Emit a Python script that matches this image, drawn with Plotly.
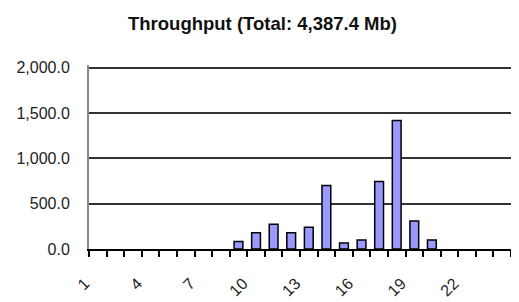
import plotly.graph_objects as go

categories = list(range(1, 25))
throughput = [0, 0, 0, 0, 0, 0, 0, 0, 84, 178, 274, 178, 241, 700, 65, 99, 744, 1418, 309, 99, 0, 0, 0, 0]
tick_positions = [1, 4, 7, 10, 13, 16, 19, 22]
tick_labels = [str(v) for v in tick_positions]
y_ticks = [0, 500, 1000, 1500, 2000]
title_text = "Throughput (Total: 4,387.4 Mb)"

font_family = "Liberation Sans, Arial, sans-serif"
outline_widths = [1.5 if v > 0 else 0 for v in throughput]

# the page body adds an 8px offset; the figure is sized to fit the 519x302 window
W, H = 511, 294

fig = go.Figure(
    go.Bar(
        x=categories,
        y=throughput,
        width=0.5,
        marker=dict(color="#9999FF", line=dict(color="#000000", width=outline_widths)),
    )
)

fig.update_layout(
    width=W,
    height=H,
    margin=dict(l=81, r=8, t=57, b=53),
    paper_bgcolor="white",
    plot_bgcolor="white",
    showlegend=False,
    title=dict(
        text="<b>" + title_text + "</b>",
        x=0.498,
        xref="container",
        xanchor="center",
        y=1 - 16 / H,
        yref="container",
        yanchor="middle",
        font=dict(family=font_family, size=18.5, color="#111111"),
    ),
    xaxis=dict(
        range=[0.5, 24.5],
        tickvals=[c + 0.5 for c in [0] + categories],
        ticktext=["" for _ in range(25)],
        ticks="outside",
        ticklen=6,
        tickwidth=1.5,
        tickcolor="#000000",
        showgrid=False,
        zeroline=False,
        showline=True,
        linecolor="#000000",
        linewidth=1.5,
        automargin=False,
    ),
    xaxis2=dict(
        overlaying="x",
        side="bottom",
        anchor="y",
        range=[0.5, 24.5],
        tickvals=tick_positions,
        ticktext=tick_labels,
        tickangle=-45,
        ticks="",
        ticklabelshift=-13,
        ticklabelstandoff=21,
        showgrid=False,
        zeroline=False,
        showline=False,
        automargin=False,
        tickfont=dict(family=font_family, size=16, color="#222222"),
    ),
    yaxis=dict(
        range=[0, 2030],
        tickvals=y_ticks,
        tickformat=",.1f",
        ticks="",
        ticklabelstandoff=14,
        showgrid=True,
        gridcolor="#333333",
        gridwidth=1.5,
        zeroline=False,
        showline=True,
        linecolor="#888888",
        linewidth=2,
        automargin=False,
        tickfont=dict(family=font_family, size=16, color="#222222"),
    ),
)

# invisible trace to activate the label axis
fig.add_trace(go.Scatter(x=[categories[0]], y=[0], xaxis="x2", mode="markers",
                         marker=dict(opacity=0), hoverinfo="skip", showlegend=False))

fig.write_html("out.html")
